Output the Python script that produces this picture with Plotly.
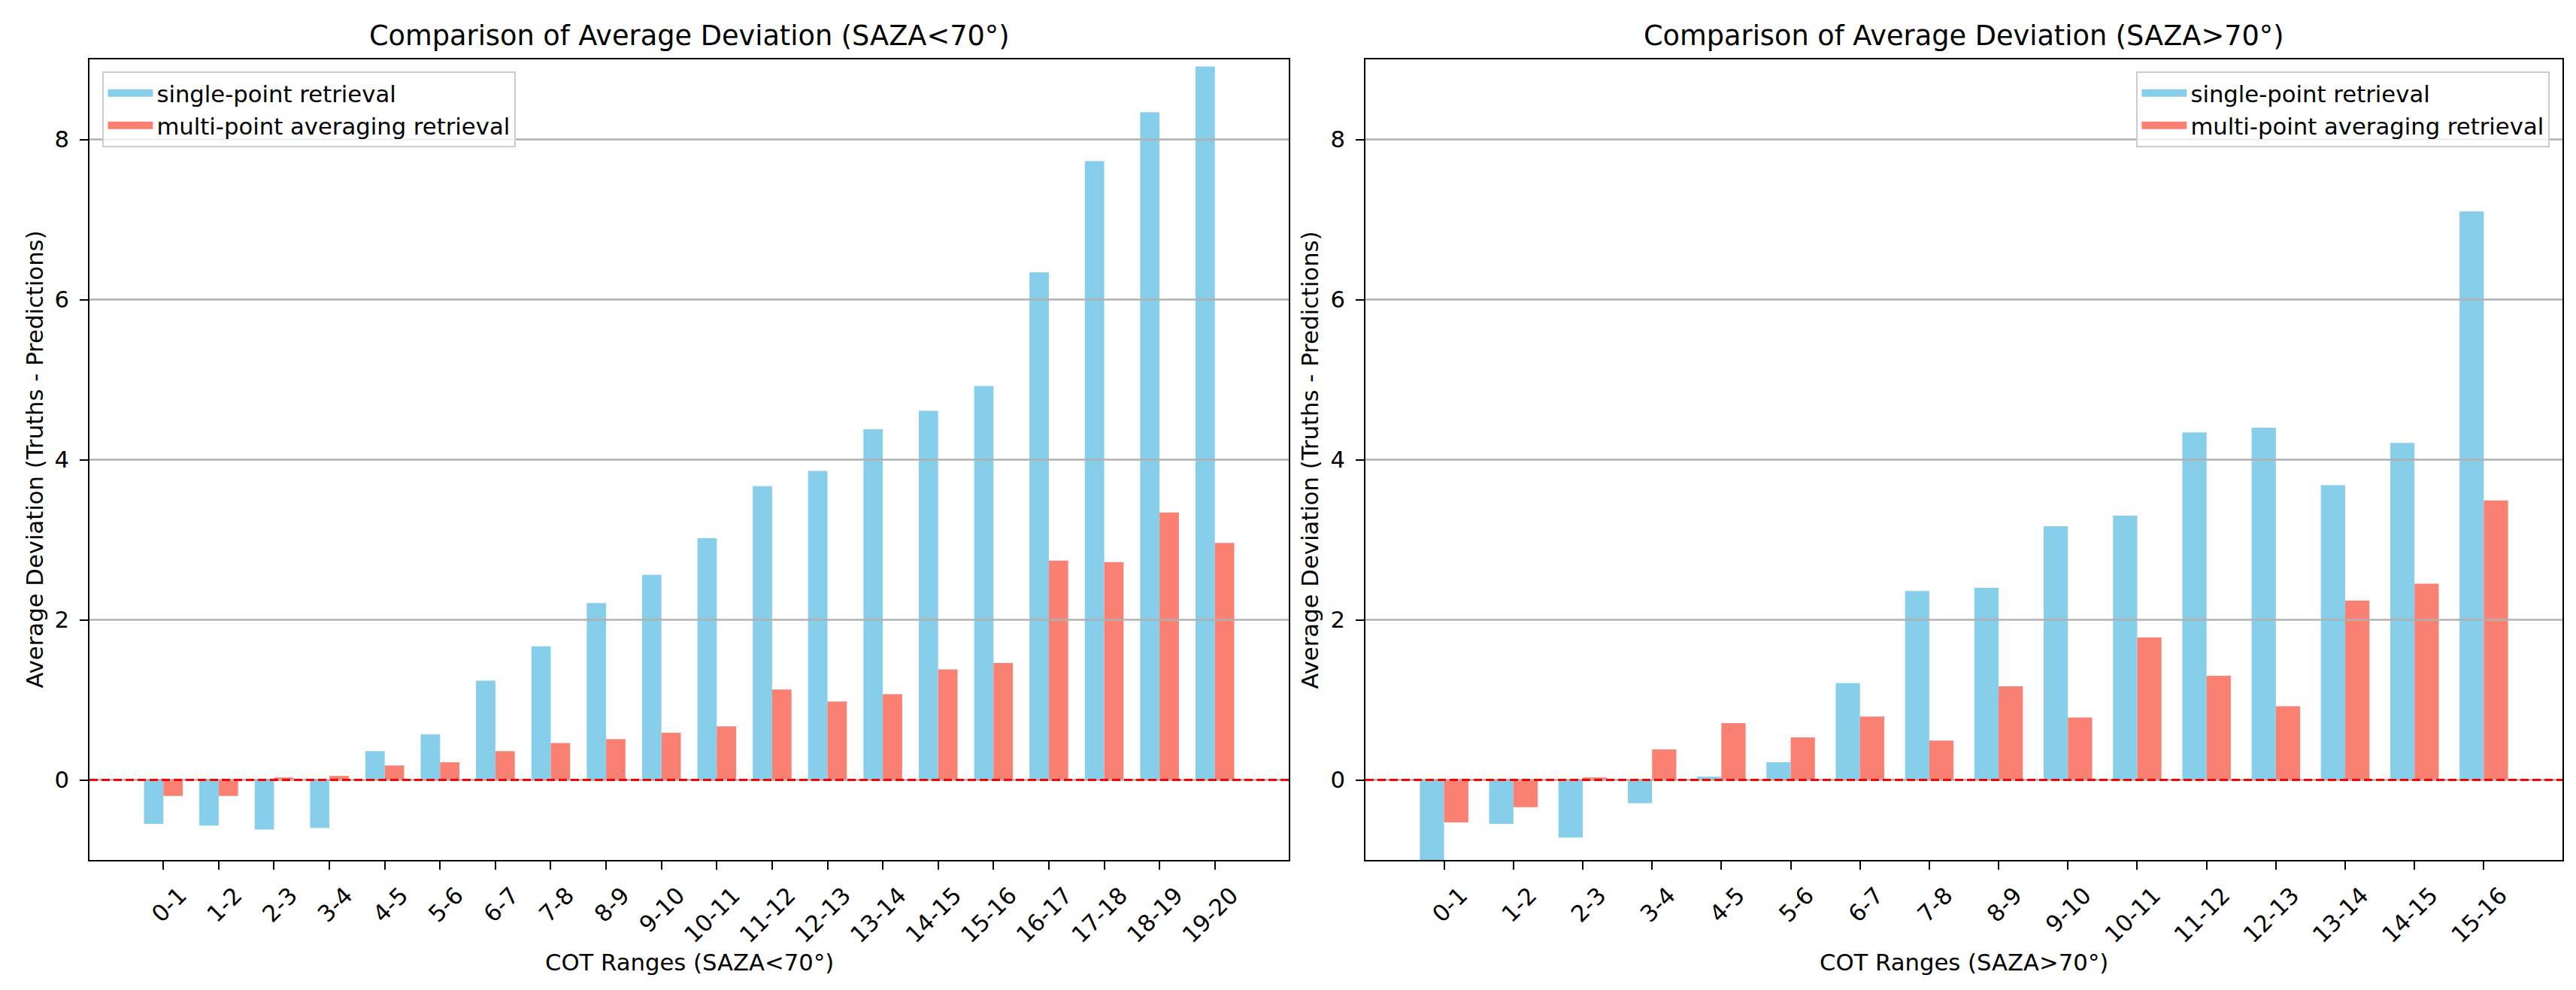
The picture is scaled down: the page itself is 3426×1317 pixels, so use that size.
import plotly.graph_objects as go

# ---------------- data ----------------
cats_low = ["0-1", "1-2", "2-3", "3-4", "4-5", "5-6", "6-7", "7-8", "8-9", "9-10",
            "10-11", "11-12", "12-13", "13-14", "14-15", "15-16", "16-17", "17-18", "18-19", "19-20"]
single_low = [-0.55, -0.57, -0.62, -0.60, 0.36, 0.57, 1.24, 1.67, 2.21, 2.56,
              3.02, 3.67, 3.86, 4.38, 4.61, 4.92, 6.34, 7.73, 8.34, 8.91]
multi_low = [-0.20, -0.20, 0.03, 0.05, 0.18, 0.22, 0.36, 0.46, 0.51, 0.59,
             0.67, 1.13, 0.98, 1.07, 1.38, 1.46, 2.74, 2.72, 3.34, 2.96]

cats_high = ["0-1", "1-2", "2-3", "3-4", "4-5", "5-6", "6-7", "7-8", "8-9", "9-10",
             "10-11", "11-12", "12-13", "13-14", "14-15", "15-16"]
single_high = [-1.20, -0.55, -0.72, -0.29, 0.04, 0.22, 1.21, 2.36, 2.40, 3.17,
               3.30, 4.34, 4.40, 3.68, 4.21, 7.10]
multi_high = [-0.53, -0.34, 0.03, 0.38, 0.71, 0.53, 0.79, 0.49, 1.17, 0.78,
              1.78, 1.30, 0.92, 2.24, 2.45, 3.49]

y_ticks = [0, 2, 4, 6, 8]
y_range = [-1, 9]
baseline = 0

series_names = ["single-point retrieval", "multi-point averaging retrieval"]
titles = ["Comparison of Average Deviation (SAZA<70°)", "Comparison of Average Deviation (SAZA>70°)"]
xlabels = ["COT Ranges (SAZA<70°)", "COT Ranges (SAZA>70°)"]
ylabel = "Average Deviation (Truths - Predictions)"

# ---------------- style ----------------
W, H = 3426, 1317
FONT = "DejaVu Sans"
TICK = 30.7
TITLE = 36.7
BLUE = "#87CEEB"
SALMON = "#FA8072"
BAR_W = 0.35
LW = 2.4

# axes boxes in pixels (left, right, top, bottom)
boxes = [(119, 1714, 79, 1144), (1816, 3408, 79, 1144)]


def dom_x(b):
    return [b[0] / W, b[1] / W]


def dom_y(b):
    return [1 - b[3] / H, 1 - b[2] / H]


fig = go.Figure()

panels = [(cats_low, single_low, multi_low), (cats_high, single_high, multi_high)]
legend_ids = ["legend", "legend2"]
colors = [BLUE, SALMON]

for i, (cats, s, m) in enumerate(panels):
    xa = "x" if i == 0 else "x2"
    ya = "y" if i == 0 else "y2"
    fig.add_trace(go.Bar(x=cats, y=s, name=series_names[0], marker=dict(color=BLUE, line=dict(width=0)),
                         width=BAR_W, offset=-BAR_W, xaxis=xa, yaxis=ya, showlegend=False))
    fig.add_trace(go.Bar(x=cats, y=m, name=series_names[1], marker=dict(color=SALMON, line=dict(width=0)),
                         width=BAR_W, offset=0, xaxis=xa, yaxis=ya, showlegend=False))
    # legend entries drawn as wide patches (like matplotlib's legend handles)
    for k in range(2):
        fig.add_trace(go.Scatter(x=[None], y=[None], mode="lines", name=series_names[k],
                                 line=dict(color=colors[k], width=20), xaxis=xa, yaxis=ya,
                                 legend=legend_ids[i], showlegend=True, hoverinfo="skip"))

axis_common = dict(
    showline=True, linecolor="black", linewidth=LW, mirror=True,
    ticks="outside", ticklen=10.7, tickwidth=LW, tickcolor="black",
    tickfont=dict(family=FONT, size=TICK, color="black"),
    zeroline=False,
)

layout = dict(
    width=W, height=H, margin=dict(l=0, r=0, t=0, b=0),
    paper_bgcolor="white", plot_bgcolor="white",
    barmode="overlay",
    font=dict(family=FONT, size=TICK, color="black"),
)

for i, (cats, s, m) in enumerate(panels):
    n = len(cats)
    margin = 0.05 * ((n - 1) + 2 * BAR_W)
    xr = [-BAR_W - margin, (n - 1) + BAR_W + margin]
    suffix = "" if i == 0 else "2"
    layout["xaxis" + suffix] = dict(
        axis_common, domain=dom_x(boxes[i]), anchor="y" + suffix,
        type="category", categoryarray=cats, range=xr, tickangle=-45, showgrid=False,
        ticklabelstandoff=4, ticklabelshift=22,
    )
    layout["yaxis" + suffix] = dict(
        axis_common, domain=dom_y(boxes[i]), anchor="x" + suffix,
        range=y_range, tickvals=y_ticks, showgrid=False, ticklabelstandoff=8,
    )

leg_common = dict(
    yanchor="top", bgcolor="rgba(255,255,255,0.8)", bordercolor="#cccccc", borderwidth=LW,
    font=dict(family=FONT, size=TICK, color="black"), traceorder="normal",
    itemwidth=60, tracegroupgap=0,
)
layout["legend"] = dict(leg_common, x=136 / W, y=1 - 95 / H, xanchor="left")
layout["legend2"] = dict(leg_common, x=3391 / W, y=1 - 95 / H, xanchor="right")

fig.update_layout(**layout)

# grid lines above bars (matplotlib default) and the red dashed zero line
shapes = []
for i in range(2):
    xref = ("x" if i == 0 else "x2") + " domain"
    yref = "y" if i == 0 else "y2"
    for v in y_ticks:
        shapes.append(dict(type="line", xref=xref, yref=yref, x0=0, x1=1, y0=v, y1=v,
                           line=dict(color="#b0b0b0", width=LW), layer="above"))
    shapes.append(dict(type="line", xref=xref, yref=yref, x0=0, x1=1, y0=baseline, y1=baseline,
                       line=dict(color="red", width=3, dash="11px,5px"), layer="above"))
fig.update_layout(shapes=shapes)

# titles and axis labels
ann = []
for i, b in enumerate(boxes):
    cx = (b[0] + b[1]) / 2 / W
    ann.append(dict(text=titles[i], x=cx, y=1 - b[2] / H, xref="paper", yref="paper",
                    xanchor="center", yanchor="bottom", yshift=8, showarrow=False,
                    font=dict(family=FONT, size=TITLE, color="black")))
    ann.append(dict(text=xlabels[i], x=cx, y=1 - 1280 / H, xref="paper", yref="paper",
                    xanchor="center", yanchor="middle", showarrow=False,
                    font=dict(family=FONT, size=TICK, color="black")))
    ylx = 46 if i == 0 else 1742
    ann.append(dict(text=ylabel, x=ylx / W, y=1 - ((b[2] + b[3]) / 2) / H, xref="paper", yref="paper",
                    xanchor="center", yanchor="middle", textangle=-90, showarrow=False,
                    font=dict(family=FONT, size=TICK, color="black")))
fig.update_layout(annotations=ann)

fig.write_html("out.html", config={"displayModeBar": False},
               post_script="document.body.style.margin='0';document.body.style.overflow='hidden';")
